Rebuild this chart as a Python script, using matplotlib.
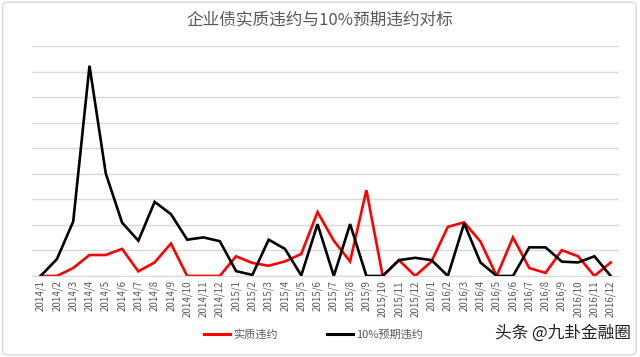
import matplotlib.pyplot as plt
from matplotlib.lines import Line2D
from matplotlib.patches import FancyBboxPatch

plt.rcParams['font.family'] = ['Noto Sans CJK SC', 'DejaVu Sans']

# months 2014/1 .. 2016/12
months = [f"{y}/{m}" for y in (2014, 2015, 2016) for m in range(1, 13)]

actual_default = [0, 0, 0.31, 0.82, 0.82, 1.06, 0.18, 0.53, 1.27, 0, 0, 0,
                  0.77, 0.51, 0.40, 0.57, 0.86, 2.50, 1.38, 0.57, 3.36, 0, 0.62, 0,
                  0.57, 1.92, 2.10, 1.35, 0, 1.51, 0.31, 0.12, 1.01, 0.77, 0, 0.53]
expected_default = [0, 0.66, 2.13, 8.23, 4.01, 2.09, 1.38, 2.90, 2.42, 1.42, 1.51, 1.36,
                    0.19, 0.04, 1.42, 1.06, 0.02, 2.03, 0, 2.03, 0, 0, 0.62, 0.71,
                    0.62, 0, 2.06, 0.53, 0, 0, 1.12, 1.12, 0.56, 0.53, 0.77, 0]

fig = plt.figure(figsize=(6.4, 3.57), dpi=100)
ax = fig.add_axes([0.05, 0.227, 0.917, 0.644])

x = range(len(months))
ax.plot(x, actual_default, color='#ff0000', lw=1.9, solid_joinstyle='miter')
ax.plot(x, expected_default, color='#000000', lw=1.9, solid_joinstyle='miter')

ax.set_xlim(-0.53, 35.5)
ax.set_ylim(0, 9)
ax.set_yticks(range(0, 10))
ax.set_yticklabels([])
ax.grid(axis='y', color='#d9d9d9', lw=1)
ax.set_axisbelow(True)
ax.tick_params(axis='y', length=0)
ax.set_xticks(list(x))
ax.set_xticklabels(months, rotation=90, fontsize=7, color='#595959')
ax.tick_params(axis='x', length=0, pad=3)
for s in ['top', 'right', 'left']:
    ax.spines[s].set_visible(False)
ax.spines['bottom'].set_color('#d9d9d9')

fig.text(0.5, 0.945, '企业债实质违约与10%预期违约对标', ha='center', va='center',
         fontsize=12, color='#595959')

handles = [Line2D([], [], color='#ff0000', lw=2.2),
           Line2D([], [], color='#000000', lw=2.2)]
fig.legend(handles, ['实质违约', '10%预期违约'], loc='center', ncol=2,
           bbox_to_anchor=(0.49, 0.062), frameon=False, fontsize=8,
           labelcolor='#595959', handlelength=2.3, handletextpad=0.3,
           columnspacing=4.5)

fig.text(0.985, 0.068, '头条 @九卦金融圈', ha='right', va='center',
         fontsize=12, color='#222222')

fig.patches.append(FancyBboxPatch((0.004, 0.006), 0.99, 0.988,
                                  boxstyle='round,pad=0,rounding_size=0.01',
                                  transform=fig.transFigure, fill=False,
                                  ec='#d9d9d9', lw=1))

fig.savefig('out.png', dpi=100)
